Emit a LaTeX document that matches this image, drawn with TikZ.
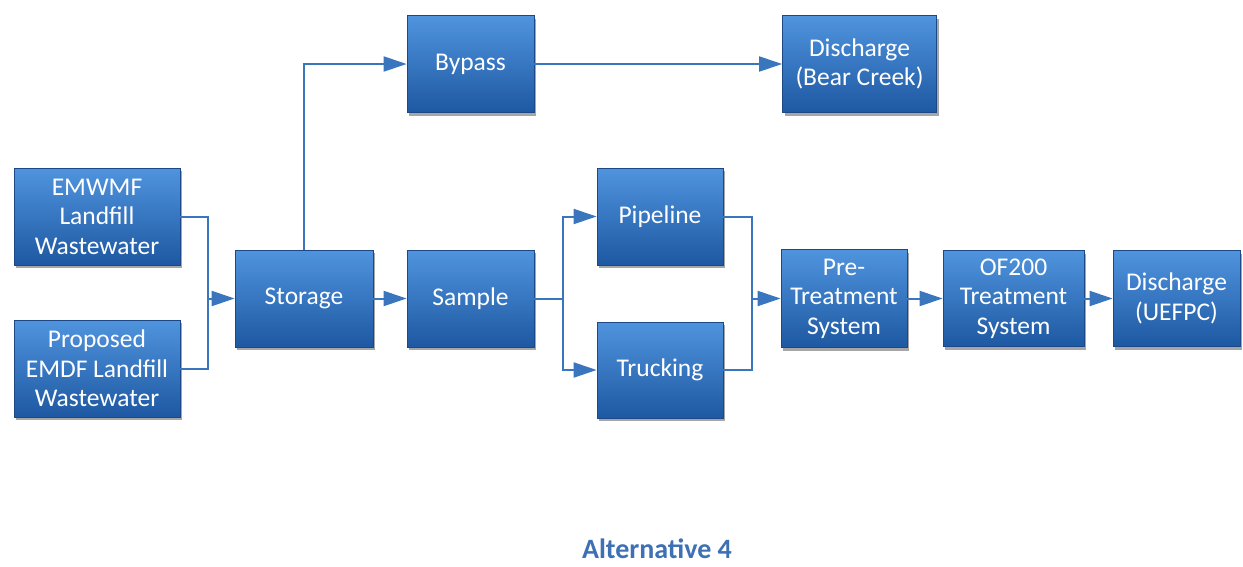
\documentclass[tikz,border=0pt]{standalone}
\usepackage{fontspec}
\setmainfont{Carlito}
\usetikzlibrary{arrows.meta,shadows,calc}
\definecolor{boxtop}{RGB}{80,148,222}
\definecolor{boxmid}{RGB}{44,114,194}
\definecolor{boxbot}{RGB}{30,88,162}
\definecolor{boxedge}{RGB}{28,72,135}
\definecolor{linkc}{RGB}{58,118,190}
\definecolor{titlec}{RGB}{62,112,180}
\tikzset{
  box/.style={rectangle, draw=boxedge, line width=0.8pt, top color=boxtop, middle color=boxmid, bottom color=boxbot,
    text=white, align=center, inner sep=2pt,
    font=\fontsize{25.5}{29.5}\selectfont,
    drop shadow={shadow xshift=2pt, shadow yshift=-3pt, fill=black, opacity=0.35}},
  link/.style={draw=linkc, line width=2pt},
  arr/.style={link, -{Triangle[length=23pt,width=15pt]}},
}
\begin{document}
\begin{tikzpicture}[x=1pt,y=-1pt]
\useasboundingbox (0,0) rectangle (1243,566);
\fill[white] (0,0) rectangle (1243,566);
\node[box, minimum width=166pt, minimum height=97pt] (emwmf) at (97,216.5) {EMWMF\\Landfill\\Wastewater};
\node[box, minimum width=166pt, minimum height=97pt] (prop) at (97,368.5) {Proposed\\EMDF Landfill\\Wastewater};
\node[box, minimum width=138pt, minimum height=97pt] (storage) at (304,298.5) {Storage};
\node[box, minimum width=127pt, minimum height=97pt] (bypass) at (470.5,64) {Bypass};
\node[box, minimum width=154pt, minimum height=97pt] (bear) at (859.5,64) {Discharge\\(Bear Creek)};
\node[box, minimum width=127pt, minimum height=97pt] (sample) at (470.5,298.5) {Sample};
\node[box, minimum width=126pt, minimum height=97pt] (pipeline) at (660,216.5) {Pipeline};
\node[box, minimum width=126pt, minimum height=96pt] (trucking) at (660,370) {Trucking};
\node[box, minimum width=126pt, minimum height=98pt] (pre) at (844,298.5) {Pre-\\Treatment\\System};
\node[box, minimum width=141pt, minimum height=96pt] (of) at (1013.5,298.5) {OF200\\Treatment\\System};
\node[box, minimum width=127pt, minimum height=96pt] (uefpc) at (1176.5,298.5) {Discharge\\(UEFPC)};
\node[font=\bfseries\fontsize{28}{33}\selectfont, text=titlec] (title) at (657,549) {Alternative 4};

\coordinate (j1) at (208,298.5);
\coordinate (j2) at (563,298.5);
\coordinate (j3) at (752,298.5);

\draw[link] (emwmf.east) -| (j1);
\draw[link] (prop.east) -| (j1);
\draw[arr] (j1) -- (storage.west);
\draw[arr] (storage.north) |- (bypass.west);
\draw[arr] (bypass.east) -- (bear.west);
\draw[arr] (storage.east) -- (sample.west);
\draw[link] (sample.east) -- (j2);
\draw[arr] (j2) |- (pipeline.west);
\draw[arr] (j2) |- (trucking.west);
\draw[link] (pipeline.east) -| (j3);
\draw[link] (trucking.east) -| (j3);
\draw[arr] (j3) -- (pre.west);
\draw[arr] (pre.east) -- (of.west);
\draw[arr] (of.east) -- (uefpc.west);
\end{tikzpicture}
\end{document}
